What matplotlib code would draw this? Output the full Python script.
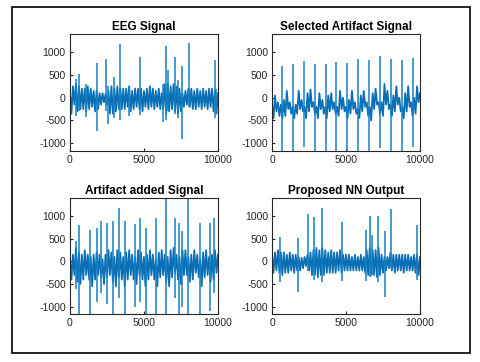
import numpy as np
import matplotlib
matplotlib.use("Agg")
import matplotlib.pyplot as plt
from matplotlib.patches import Rectangle

plt.rcParams["font.family"] = ["Liberation Sans", "DejaVu Sans"]
plt.rcParams["axes.unicode_minus"] = False

# envelope of the dense trace, read every 200 samples (upper / lower value)
eeg_hi = [100, 250, 300, 250, 200, 200, 250, 200, 150, 150, 100, 100, 80, 150, 250, 200, 250,
          200, 200, 200, 250, 150, 200, 200, 200, 150, 200, 250, 200, 150, 200, 100, 300, 300,
          250, 300, 250, 200, 100, 150, 200, 200, 150, 200, 150, 200, 150, 200, 200, 150, 100]
eeg_lo = [-350, -150, -300, -250, -250, -300, -250, -200, -300, -250, -150, -100, -150, -350,
          -350, -300, -250, -250, -250, -200, -300, -250, -200, -250, -300, -200, -250, -200,
          -250, -200, -250, -250, -350, -300, -250, -300, -350, -300, -200, -150, -200, -250,
          -250, -200, -250, -200, -250, -200, -300, -350, -100]
eeg_spike_pos = [400, 600, 1100, 1850, 2450, 2600, 3000, 3370, 4000, 4720, 6300, 6470, 6650,
                 7100, 7300, 7600, 8020, 9780, 9900]
eeg_spike_top = [420, 520, 300, 760, 850, 250, 450, 1180, 250, 890, 300, 1130, 600, 890, 400,
                 690, 1200, 820, 200]
eeg_spike_bot = [-400, -300, -420, -720, -300, -570, -450, -480, -400, -380, -530, -480, -300,
                 -350, -450, -900, -200, -450, -350]

art_hi = [-150, 50, -100, -150, -50, 150, -100, -200, -150, 150, -50, -200, 100, 180, -100,
          -200, 100, -50, -200, 50, 100, -100, -200, 150, 0, -200, -50, 150, -100, -250, 50,
          150, -100, -200, 100, 200, -100, -100, 300, 150, -150, 50, 250, 0, -200, 100, 250,
          -100, 0, 250, 100]
art_lo = [-450, -300, -400, -450, -400, -250, -350, -450, -350, -250, -300, -450, -300, -200,
          -350, -450, -250, -350, -450, -300, -250, -350, -400, -250, -300, -450, -350, -250,
          -350, -450, -300, -200, -400, -500, -250, -150, -350, -400, -150, -250, -400, -300,
          -150, -300, -450, -300, -200, -400, -350, -100, -50]
art_spike_pos = [680, 1420, 2160, 2900, 3630, 4350, 5090, 5830, 6550, 7300, 8040, 8780, 9500]
art_spike_top = [700, 735, 810, 740, 735, 795, 760, 850, 830, 920, 845, 830, 880]
art_spike_bot = [-1250, -1250, -1080, -1250, -1250, -1250, -1250, -1250, -1250, -1100, -1250,
                 -1250, -1080]

mix_hi = [100, 150, 300, 200, 150, 250, 150, 100, 150, 200, 150, 50, 150, 250, 200, 100, 250,
          200, 100, 200, 250, 150, 100, 250, 200, 100, 150, 250, 150, 50, 200, 250, 150, 100,
          250, 300, 150, 100, 250, 250, 100, 150, 250, 150, 50, 200, 250, 100, 150, 250, 150]
mix_lo = [-400, -300, -450, -500, -400, -300, -400, -550, -400, -300, -350, -500, -350, -300,
          -450, -550, -350, -400, -550, -400, -300, -400, -500, -300, -400, -550, -400, -300,
          -400, -550, -350, -300, -450, -550, -350, -250, -400, -500, -300, -300, -450, -400,
          -250, -350, -550, -350, -300, -450, -400, -250, -150]
mix_spike_pos = [400, 630, 1380, 1810, 2100, 2480, 2890, 3300, 3750, 4360, 4740, 5150, 5820,
                 6500, 7110, 7340, 7560, 7990, 8760, 9440, 9750]
mix_spike_top = [450, 800, 700, 740, 890, 850, 890, 1185, 890, 830, 960, 740, 960, 1450, 960,
                 850, 670, 1450, 850, 850, 960]
mix_spike_bot = [-600, -1250, -1250, -900, -700, -950, -1250, -800, -1250, -1000, -900, -1250,
                 -1250, -1250, -800, -1250, -1000, -1250, -1250, -1100, -700]

nn_hi = [150, 200, 250, 200, 200, 150, 200, 150, 150, 100, 80, 100, 150, 200, 250, 300, 250,
         300, 250, 200, 250, 200, 200, 250, 150, 150, 150, 100, 150, 100, 150, 100, 250, 300,
         250, 250, 300, 150, 100, 100, 200, 150, 150, 150, 150, 150, 150, 100, 150, 150, 100]
nn_lo = [-250, -200, -250, -300, -250, -250, -200, -250, -200, -200, -150, -100, -200, -300,
         -300, -350, -300, -300, -250, -250, -250, -250, -200, -250, -200, -200, -200, -200,
         -200, -200, -200, -250, -300, -300, -300, -350, -300, -250, -200, -150, -200, -250,
         -200, -200, -250, -200, -200, -200, -250, -300, -100]
nn_spike_pos = [560, 1780, 2430, 2820, 3360, 4710, 6370, 6600, 6780, 7140, 7610, 8060, 9820]
nn_spike_top = [550, 530, 1050, 980, 1190, 870, 700, 1010, 590, 1000, 670, 1160, 810]
nn_spike_bot = [-450, -680, -200, -400, -450, -430, -430, -350, -300, -450, -780, -150, -400]

panels = [
    ("EEG Signal", eeg_hi, eeg_lo, eeg_spike_pos, eeg_spike_top, eeg_spike_bot),
    ("Selected Artifact Signal", art_hi, art_lo, art_spike_pos, art_spike_top, art_spike_bot),
    ("Artifact added Signal", mix_hi, mix_lo, mix_spike_pos, mix_spike_top, mix_spike_bot),
    ("Proposed NN Output", nn_hi, nn_lo, nn_spike_pos, nn_spike_top, nn_spike_bot),
]

color = "#0a6fb5"
fig = plt.figure(figsize=(4.8, 3.62), dpi=100)
fig.patches.append(Rectangle((12 / 480, 9 / 362), 458 / 480, 346 / 362, transform=fig.transFigure,
                             fill=False, edgecolor="black", linewidth=1.2))

rects = [[0.1458, 0.5829, 0.3083, 0.3232], [0.5667, 0.5829, 0.3083, 0.3232],
         [0.1458, 0.1318, 0.3083, 0.3204], [0.5667, 0.1318, 0.3083, 0.3204]]

for rect, (title, hi, lo, sp, st, sb) in zip(rects, panels):
    ax = fig.add_axes(rect)
    n = len(hi)
    xs = np.linspace(0, 10000, n)
    # trace visits upper then lower value at each read position
    x_line = np.empty(2 * n)
    y_line = np.empty(2 * n)
    x_line[0::2] = xs
    x_line[1::2] = xs + 100
    y_line[0::2] = hi
    y_line[1::2] = lo
    ax.plot(x_line[:-1], y_line[:-1], color=color, linewidth=1.3)
    ax.vlines(sp, sb, st, color="#1580c4", linewidth=1.1)
    ax.set_xlim(0, 10000)
    ax.set_ylim(-1170, 1400)
    ax.set_xticks([0, 5000, 10000])
    ax.set_yticks([-1000, -500, 0, 500, 1000])
    ax.tick_params(direction="in", length=2, labelsize=7.5, pad=3, colors="#262626")
    for s in ax.spines.values():
        s.set_linewidth(0.8)
        s.set_color("#262626")
    ax.set_title(title, fontsize=8.5, fontweight="bold", pad=3)

fig.savefig("out.png", dpi=100)
